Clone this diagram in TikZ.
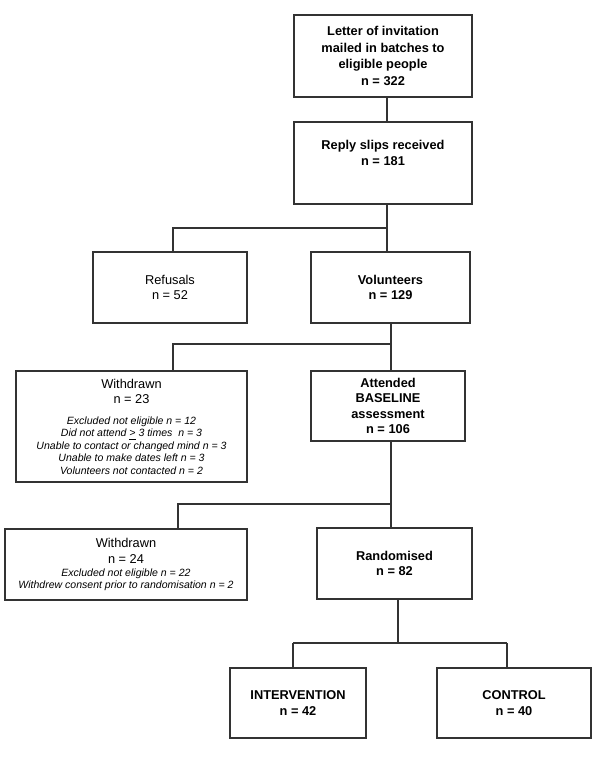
\documentclass[tikz,border=0pt]{standalone}
\usepackage{fontspec}
\setmainfont{Liberation Sans}
\begin{document}
\begin{tikzpicture}[x=0.75pt,y=-0.75pt,
  box/.style={draw=black!80, line width=0.8pt, rectangle, align=center, inner sep=0pt,
    font=\fontsize{9.6}{11.6}\selectfont},
  conn/.style={draw=black!80, line width=0.8pt}]
\newcommand{\smallit}{\fontsize{7.9}{9}\selectfont\itshape}
\fill[white] (0,0) rectangle (600,763);
\useasboundingbox (0,0) rectangle (600,763);

\node[box, minimum width=133.5pt, minimum height=61.5pt] (top) at (383,56)
  {\bfseries Letter of invitation\\[0.8pt] \bfseries mailed in batches to\\[0.8pt] \bfseries eligible people\\[0.8pt] \bfseries n = 322};
\node[box, minimum width=133.5pt, minimum height=61.5pt] (reply) at (383,163)
  {\bfseries Reply slips received\\ \bfseries n = 181\\[3.5pt]};
\node[box, minimum width=115.5pt, minimum height=53.25pt] (ref) at (170,287.5)
  {Refusals\\ n = 52};
\node[box, minimum width=119.25pt, minimum height=53.25pt] (vol) at (390.5,287.5)
  {\bfseries Volunteers\\ \bfseries n = 129};
\node[box, minimum width=173.25pt, minimum height=83.25pt] (wd1) at (131.5,426.5)
  {Withdrawn\\ n = 23\\[4.2pt]
   {\smallit Excluded not eligible n = 12}\\[-2.3pt]
   {\smallit Did not attend \underline{>} 3 times\ \ n = 3}\\[-2.3pt]
   {\smallit Unable to contact or changed mind n = 3}\\[-2.3pt]
   {\smallit Unable to make dates left n = 3}\\[-2.3pt]
   {\smallit Volunteers not contacted n = 2}};
\node[box, minimum width=115.5pt, minimum height=52.5pt] (att) at (388,406)
  {\bfseries Attended\\ \bfseries BASELINE\\ \bfseries assessment\\ \bfseries n = 106};
\node[box, minimum width=181.5pt, minimum height=53.25pt] (wd2) at (126,564.5)
  {Withdrawn\\ n = 24\\[-1.85pt]
   {\smallit Excluded not eligible n = 22}\\[-2.45pt]
   {\smallit Withdrew consent prior to randomisation n = 2}};
\node[box, minimum width=116.25pt, minimum height=53.25pt] (rand) at (394.5,563.5)
  {\bfseries Randomised\\ \bfseries n = 82};
\node[box, minimum width=102pt, minimum height=52.5pt] (int) at (298,703)
  {\bfseries INTERVENTION\\ \bfseries n = 42};
\node[box, minimum width=115.5pt, minimum height=52.5pt] (ctl) at (514,703)
  {\bfseries CONTROL\\ \bfseries n = 40};

% junction coordinates
\coordinate (j1) at (387,228);
\coordinate (j1l) at (173,228);
\coordinate (j2) at (391,344);
\coordinate (j2l) at (173,344);
\coordinate (j3) at (391,504);
\coordinate (j3l) at (178,504);
\coordinate (j4) at (398,643);
\coordinate (j4l) at (293,643);
\coordinate (j4r) at (507,643);

\draw[conn] (top.south -| j1) -- (reply.north -| j1);
\draw[conn] (reply.south -| j1) -- (j1) -- (vol.north -| j1);
\draw[conn] (j1) -- (j1l) -- (ref.north -| j1l);
\draw[conn] (vol.south -| j2) -- (j2) -- (att.north -| j2);
\draw[conn] (j2) -- (j2l) -- (wd1.north -| j2l);
\draw[conn] (att.south -| j3) -- (j3) -- (rand.north -| j3);
\draw[conn] (j3) -- (j3l) -- (wd2.north -| j3l);
\draw[conn] (rand.south -| j4) -- (j4);
\draw[conn] (j4l) -- (j4r);
\draw[conn] (j4l) -- (int.north -| j4l);
\draw[conn] (j4r) -- (ctl.north -| j4r);
\end{tikzpicture}
\end{document}
